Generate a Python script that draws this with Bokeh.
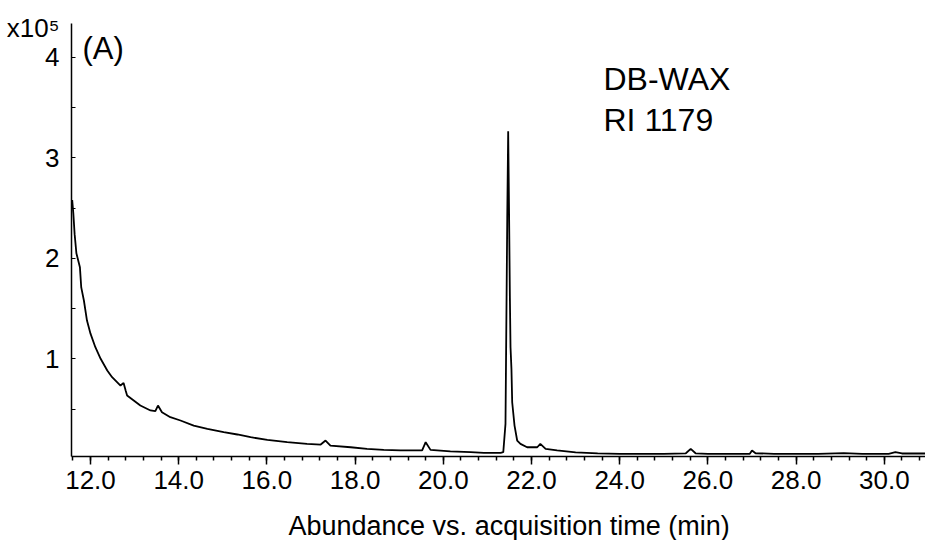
from bokeh.plotting import figure
from bokeh.models import FixedTicker, Label, Range1d
from bokeh.embed import file_html
from bokeh.resources import INLINE

# ---- data ----
time_min = [11.57, 11.585, 11.61, 11.64, 11.68, 11.72, 11.76, 11.79, 11.85, 11.92,
            12.00, 12.11, 12.23, 12.38, 12.49, 12.68, 12.75, 12.80, 12.83, 12.98,
            13.13, 13.36, 13.47, 13.53, 13.62, 13.81, 14.04, 14.34, 14.65, 15.02,
            15.33, 15.63, 16.01, 16.46, 16.91, 17.22, 17.33, 17.44, 17.90, 18.27,
            18.65, 19.03, 19.52, 19.60, 19.71, 20.16, 20.62, 20.92, 21.30, 21.36,
            21.41, 21.45, 21.471, 21.49, 21.51, 21.524, 21.545, 21.562, 21.615, 21.675,
            21.75, 21.90, 22.13, 22.20, 22.32, 22.58, 23.00, 23.50, 24.00, 25.00,
            25.50, 25.61, 25.72, 26.00, 26.50, 26.95, 27.00, 27.08, 27.50, 28.50,
            29.08, 29.50, 30.10, 30.25, 30.40, 30.93]
abundance_e5 = [2.50, 2.58, 2.45, 2.24, 2.05, 1.98, 1.91, 1.71, 1.58, 1.38,
                1.25, 1.115, 1.00, 0.884, 0.817, 0.734, 0.76, 0.68, 0.635, 0.585,
                0.535, 0.486, 0.48, 0.535, 0.469, 0.419, 0.386, 0.336, 0.303, 0.27,
                0.247, 0.22, 0.194, 0.17, 0.154, 0.147, 0.187, 0.137, 0.12, 0.104,
                0.094, 0.088, 0.088, 0.17, 0.094, 0.078, 0.071, 0.065, 0.065, 0.071,
                0.353, 2.40, 3.265, 2.50, 1.60, 1.115, 0.90, 0.568, 0.336, 0.187,
                0.154, 0.12, 0.12, 0.154, 0.104, 0.088, 0.07, 0.06, 0.055, 0.055,
                0.06, 0.104, 0.06, 0.055, 0.055, 0.055, 0.088, 0.06, 0.055, 0.055,
                0.061, 0.055, 0.055, 0.071, 0.058, 0.058]
abundance = [v * 1e5 for v in abundance_e5]

x_major = [12, 14, 16, 18, 20, 22, 24, 26, 28, 30]
x_labels = ["12.0", "14.0", "16.0", "18.0", "20.0", "22.0", "24.0", "26.0", "28.0", "30.0"]
x_minor = [round(11.6 + 0.4 * i, 2) for i in range(49)]
y_major = [1e5, 2e5, 3e5, 4e5]
y_labels = ["1", "2", "3", "4"]
y_marks = [0.5e5, 1e5, 1.5e5, 2e5, 2.5e5, 3e5, 3.5e5, 4e5]
scale_label = "x10\u2075"
scale_pos = 4.29e5

FONT = "Liberation Sans"

p = figure(width=925, height=540, output_backend="svg", toolbar_location=None,
           x_range=Range1d(11.569, 30.934), y_range=Range1d(2800, 433600),
           min_border_left=71, min_border_right=0, min_border_top=23, min_border_bottom=84)
p.outline_line_color = None
p.xgrid.visible = False
p.ygrid.visible = False
p.background_fill_color = "white"
p.border_fill_color = "white"

p.line(time_min, abundance, line_color="black", line_width=1.8)

# x axis
xa = p.xaxis[0]
xa.ticker = FixedTicker(ticks=x_major, minor_ticks=x_minor)
xa.major_label_overrides = {t: l for t, l in zip(x_major, x_labels)}
xa.major_label_text_font = FONT
xa.major_label_text_font_size = "26px"
xa.major_label_text_color = "black"
xa.major_label_standoff = 6
xa.axis_line_color = "black"
xa.axis_line_width = 1.5
xa.major_tick_in = 0
xa.major_tick_out = 8
xa.minor_tick_in = 0
xa.minor_tick_out = 4
xa.major_tick_line_color = "black"
xa.minor_tick_line_color = "black"
xa.major_tick_line_width = 1.5
xa.minor_tick_line_width = 1.5

# y axis: tick marks drawn as minor ticks, labels (incl. scale factor) as majors
ya = p.yaxis[0]
ya.ticker = FixedTicker(ticks=y_major + [scale_pos], minor_ticks=y_marks)
overrides = {t: l for t, l in zip(y_major, y_labels)}
overrides[scale_pos] = scale_label
ya.major_label_overrides = overrides
ya.major_label_text_font = FONT
ya.major_label_text_font_size = "26px"
ya.major_label_text_color = "black"
ya.major_label_standoff = 12
ya.axis_line_color = "black"
ya.axis_line_width = 1.5
ya.major_tick_in = 0
ya.major_tick_out = 0
ya.minor_tick_in = 4
ya.minor_tick_out = 0
ya.minor_tick_line_color = "black"
ya.minor_tick_line_width = 1.2

# x-axis caption placed in the panel below the axis
p.add_layout(Label(x=217, y=-4, x_units="screen", y_units="screen",
                   text="Abundance vs. acquisition time (min)",
                   text_font=FONT, text_font_size="27px", text_color="black",
                   text_baseline="alphabetic", text_align="left"), "below")

def lab(text, x, y, size):
    p.add_layout(Label(x=x, y=y, x_units="screen", y_units="screen", text=text,
                       text_font=FONT, text_font_size=size, text_color="black",
                       text_baseline="alphabetic", text_align="left"))

lab("(A)", 11, 408, "31px")
lab("DB-WAX", 532, 378, "32px")
lab("RI 1179", 532, 337, "32px")

open("out.html", "w").write(file_html(p, INLINE))
